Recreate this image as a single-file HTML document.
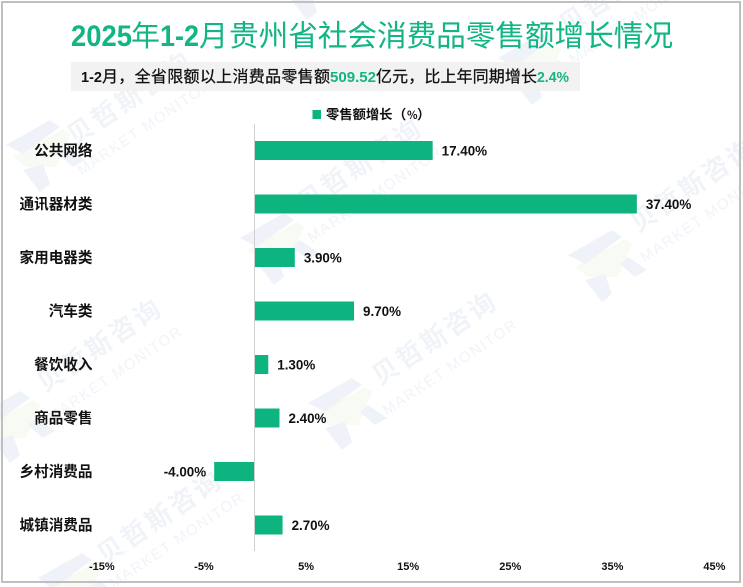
<!DOCTYPE html>
<html lang="zh">
<head>
<meta charset="utf-8">
<title>2025年1-2月贵州省社会消费品零售额增长情况</title>
<style>
html,body{margin:0;padding:0;background:#fff;}
body{width:743px;height:587px;overflow:hidden;}
svg{display:block;}
text{font-family:"Liberation Sans","Noto Sans CJK SC",sans-serif;}
.cjk{font-family:"Noto Sans CJK SC","Liberation Sans",sans-serif;}
.wm{fill:#f0f4f9;font-weight:700;font-size:26px;letter-spacing:3px;text-anchor:middle;}
.wm2{fill:#f0f4f9;font-size:15px;letter-spacing:1.6px;text-anchor:middle;}
</style>
</head>
<body>
<svg id="chart" xmlns="http://www.w3.org/2000/svg" width="743" height="587" viewBox="0 0 743 587">
  <rect x="0" y="0" width="743" height="587" fill="#fff"/>
  <defs>
    <g id="wm-logo">
      <polygon fill="#f7fbf4" points="-30,0 20,-28 27,-23 13,10 -17,10"/>
      <polygon fill="#eff3f9" points="-37,-12 7,-37 17,-30 -20,-3"/>
      <polygon fill="#eff3f9" points="-20,13 0,7 7,27 -3,35"/>
      <polygon fill="#eff3f9" points="23,-10 42,3 30,10 15,-3"/>
    </g>
  </defs>
  <g>
    <use href="#wm-logo" x="43" y="157"/>
    <text class="wm cjk" transform="translate(130,98) rotate(-34)" y="9">贝哲斯咨询</text>
    <text class="wm2" transform="translate(145,127) rotate(-34)" y="5">MARKET MONITOR</text>
    <use href="#wm-logo" x="277" y="250"/>
    <text class="wm cjk" transform="translate(360,165) rotate(-34)" y="9">贝哲斯咨询</text>
    <text class="wm2" transform="translate(375,194) rotate(-34)" y="5">MARKET MONITOR</text>
    <use href="#wm-logo" x="605" y="267"/>
    <text class="wm cjk" transform="translate(693,185) rotate(-34)" y="9">贝哲斯咨询</text>
    <text class="wm2" transform="translate(708,214) rotate(-34)" y="5">MARKET MONITOR</text>
    <use href="#wm-logo" x="13" y="428"/>
    <text class="wm cjk" transform="translate(100,345) rotate(-34)" y="9">贝哲斯咨询</text>
    <text class="wm2" transform="translate(115,374) rotate(-34)" y="5">MARKET MONITOR</text>
    <use href="#wm-logo" x="345" y="415"/>
    <text class="wm cjk" transform="translate(435,338) rotate(-34)" y="9">贝哲斯咨询</text>
    <text class="wm2" transform="translate(450,367) rotate(-34)" y="5">MARKET MONITOR</text>
    <polygon fill="#f7fbf4" points="50,587 95,562 102,567 93,587"/>
    <polygon fill="#eff3f9" points="38,578 82,553 92,560 55,587 50,587"/>
    <polygon fill="#eff3f9" points="98,580 108,587 90,587"/>
    <text class="wm cjk" transform="translate(160,517) rotate(-34)" y="9">贝哲斯咨询</text>
    <text class="wm2" transform="translate(177,540) rotate(-34)" y="5">MARKET MONITOR</text>
    <use href="#wm-logo" x="310" y="-15"/>
    <use href="#wm-logo" x="535" y="70"/>
    <text class="wm cjk" transform="translate(622,-13) rotate(-34)" y="9">贝哲斯咨询</text>
    <text class="wm2" transform="translate(637,16) rotate(-34)" y="5">MARKET MONITOR</text>
  </g>
  <rect x="2" y="2" width="738" height="580" fill="none" stroke="#bfbfbf" stroke-width="2"/>

  <g fill="#12b583">
    <text x="71" y="46" font-size="30" font-weight="700" textLength="61" lengthAdjust="spacingAndGlyphs">2025</text>
    <text class="cjk" x="131" y="46" font-size="29">年</text>
    <text x="160" y="46" font-size="30" font-weight="700" textLength="39" lengthAdjust="spacingAndGlyphs">1-2</text>
    <text class="cjk" x="199" y="46" font-size="29">月</text>
    <text class="cjk" x="229" y="46" font-size="29.7" textLength="444" lengthAdjust="spacing">贵州省社会消费品零售额增长情况</text>
  </g>

  <rect x="71" y="62" width="509" height="29" fill="#f2f2f2"/>
  <g>
    <text x="81" y="82" font-size="14.5" font-weight="700" fill="#111" textLength="21" lengthAdjust="spacingAndGlyphs">1-2</text>
    <text class="cjk" x="102" y="82" font-size="16" fill="#111" stroke="#111" stroke-width="0.25" textLength="228" lengthAdjust="spacing">月，全省限额以上消费品零售额</text>
    <text x="330" y="82" font-size="14.5" font-weight="700" fill="#12b583" textLength="46" lengthAdjust="spacingAndGlyphs">509.52</text>
    <text class="cjk" x="376" y="82" font-size="16" fill="#111" stroke="#111" stroke-width="0.25" textLength="161" lengthAdjust="spacing">亿元，比上年同期增长</text>
    <text x="537" y="82" font-size="14.5" font-weight="700" fill="#12b583" textLength="32" lengthAdjust="spacingAndGlyphs">2.4%</text>
  </g>

  <g>
    <rect x="312.5" y="110" width="8.5" height="9" fill="#0db480"/>
    <text class="cjk" y="119" font-weight="700" fill="#111" font-size="13.3"><tspan x="326">零售额增长</tspan><tspan x="393">（</tspan><tspan x="407" font-size="11">%</tspan><tspan x="417">）</tspan></text>
  </g>

  <line x1="254.5" y1="124" x2="254.5" y2="551" stroke="#d0d0d0" stroke-width="1"/>
  <g id="plot"></g>
</svg>

<script>
const categories = ['公共网络','通讯器材类','家用电器类','汽车类','餐饮收入','商品零售','乡村消费品','城镇消费品'];
const growthValues = [17.4, 37.4, 3.9, 9.7, 1.3, 2.4, -4.0, 2.7];
const tickValues = [-15, -5, 5, 15, 25, 35, 45];

const SVG_NS = 'http://www.w3.org/2000/svg';
const plot = document.getElementById('plot');
const plotTop = 124;
const bandHeight = 53.5;
const barHeight = 19;

function xScale(v) { return 255 + v * 10.21; }
function yScale(i) { return plotTop + bandHeight * i + bandHeight / 2 - 0.25; }

function makeText(x, y, str, size, anchor) {
  const t = document.createElementNS(SVG_NS, 'text');
  t.setAttribute('x', x);
  t.setAttribute('y', y);
  t.setAttribute('font-size', size);
  t.setAttribute('font-weight', '700');
  t.setAttribute('fill', '#111');
  t.setAttribute('text-anchor', anchor);
  t.textContent = str;
  return t;
}

categories.forEach(function (name, i) {
  const v = growthValues[i];
  const cy = yScale(i);
  const x0 = v >= 0 ? xScale(0) : xScale(v);
  const x1 = v >= 0 ? xScale(v) : xScale(0) - 1;

  const label = makeText(92.5, cy + 5, name, 14.6, 'end');
  label.setAttribute('class', 'cjk');
  
  
  plot.appendChild(label);

  const bar = document.createElementNS(SVG_NS, 'rect');
  bar.setAttribute('x', x0);
  bar.setAttribute('y', cy - barHeight / 2);
  bar.setAttribute('width', Math.max(0, x1 - x0));
  bar.setAttribute('height', barHeight);
  bar.setAttribute('fill', '#0db480');
  
  
  plot.appendChild(bar);

  const valueStr = v.toFixed(2) + '%';
  const valueLabel = v >= 0
    ? makeText(x1 + 9, cy + 4.8, valueStr, 13.4, 'start')
    : makeText(x0 - 8, cy + 4.8, valueStr, 13.4, 'end');
  
  
  plot.appendChild(valueLabel);
});

tickValues.forEach(function (v) {
  const tick = makeText(xScale(v), 570, v + '%', 11, 'middle');
  
  
  plot.appendChild(tick);
});
</script>
</body>
</html>
